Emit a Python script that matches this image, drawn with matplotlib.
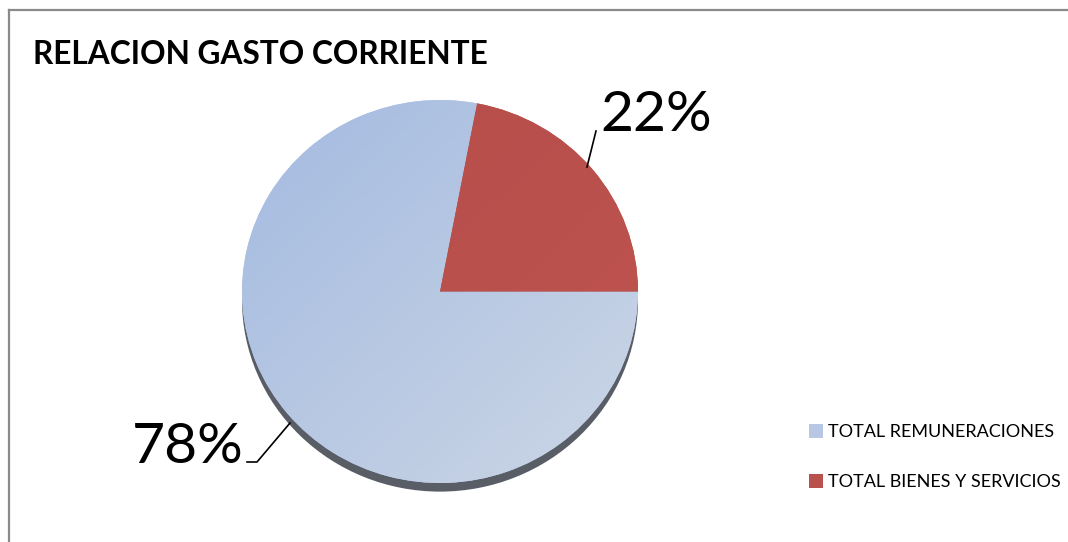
import numpy as np
import matplotlib
matplotlib.use("Agg")
import matplotlib.pyplot as plt
from matplotlib.patches import Ellipse
from matplotlib.lines import Line2D

# Gasto corriente
categories = ["TOTAL REMUNERACIONES", "TOTAL BIENES Y SERVICIOS"]
shares = [78, 22]
title = "RELACION GASTO CORRIENTE"

plt.rcParams['font.family'] = ['Lato', 'DejaVu Sans']

W, H = 1068, 542
fig = plt.figure(figsize=(W / 100, H / 100), dpi=100)
fig.patch.set_facecolor("white")

# frame around the chart (only top and left visible)
fig.add_artist(Line2D([8.5 / W, 8.5 / W], [0, 1 - 10 / H], transform=fig.transFigure,
                      color="#8a8a8a", lw=1.6))
fig.add_artist(Line2D([8.5 / W, 1], [1 - 10 / H, 1 - 10 / H], transform=fig.transFigure,
                      color="#8a8a8a", lw=1.6))

fig.text(33 / W, 1 - 54 / H, title, fontsize=22.8, fontweight="bold", va="center", ha="left")

# pie area in pixels
px0, px1, py0, py1 = 242, 638, 100, 483
ax = fig.add_axes([px0 / W, 1 - py1 / H, (px1 - px0) / W, (py1 - py0) / H])

# 3d rim under the pie
ax.add_patch(Ellipse((0, -0.045), 2, 2, facecolor="#585d66", edgecolor="none",
                     zorder=0, clip_on=False))

wedges, _ = ax.pie(shares, colors=["#b8c7e3", "#b9514d"], startangle=0, counterclock=False,
                   radius=1, wedgeprops=dict(linewidth=0, zorder=1))

# soft diagonal gradient on each slice
n = 300
xx, yy = np.meshgrid(np.linspace(0, 1, n), np.linspace(0, 1, n))
t = ((xx + (1 - yy)) / 2)[..., None]
grads = [
    (np.array([0.64, 0.73, 0.88]), np.array([0.80, 0.84, 0.90])),
    (np.array([0.71, 0.30, 0.29]), np.array([0.75, 0.33, 0.31])),
]
for w, (c0, c1) in zip(wedges, grads):
    img = c0 * (1 - t) + c1 * t
    im = ax.imshow(img, extent=[-1, 1, -1, 1], origin="lower", zorder=2,
                   interpolation="bilinear", aspect="auto")
    im.set_clip_path(w)
ax.set_xlim(-1, 1)
ax.set_ylim(-1, 1)
ax.set_aspect("auto")
ax.axis("off")

# percentage labels with leader lines
lab_kw = dict(fontsize=41, transform=fig.transFigure, va="baseline")
fig.text(600 / W, 1 - 131 / H, f"{shares[1]}%", ha="left", **lab_kw)
fig.text(244 / W, 1 - 463 / H, f"{shares[0]}%", ha="right", **lab_kw)
fig.add_artist(Line2D([596 / W, 587 / W], [1 - 131 / H, 1 - 167 / H],
                      transform=fig.transFigure, color="black", lw=1.2))
fig.add_artist(Line2D([247 / W, 257 / W, 290 / W], [1 - 462 / H, 1 - 462 / H, 1 - 423 / H],
                      transform=fig.transFigure, color="black", lw=1.2))

fig.legend(wedges, categories, loc="center left", bbox_to_anchor=(809 / W, 1 - 457 / H),
           frameon=False, fontsize=13, handlelength=0.8, handleheight=0.8,
           handletextpad=0.25, labelspacing=1.85, borderaxespad=0, borderpad=0)

fig.savefig("out.png", dpi=100)
